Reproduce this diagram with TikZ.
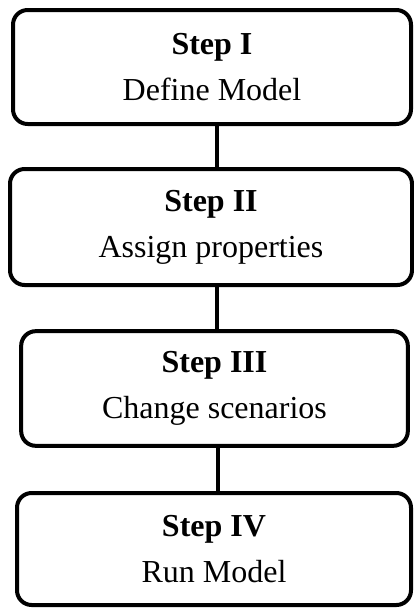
\documentclass[tikz,border=0pt]{standalone}
\usepackage{fontspec}
\setmainfont{Liberation Serif}
\usepackage{tikz}
\usetikzlibrary{positioning,calc}

\begin{document}
\begin{tikzpicture}[x=0.75pt,y=-0.75pt,
        stepbox/.style={draw,rectangle,rounded corners=11pt,line width=3pt,
          outer sep=0pt,inner sep=0pt,align=center,
          font=\fontsize{24}{34.5}\selectfont},
        link/.style={line width=3pt}]
   \useasboundingbox (0,0) rectangle (414,608);
   \node[stepbox,minimum width=298.5pt,minimum height=85.5pt] (A) at (212,67) {\textbf{Step I}\\Define Model};
   \node[stepbox,minimum width=301.5pt,minimum height=87pt] (B) at (211,227) {\textbf{Step II}\\Assign properties};
   \node[stepbox,minimum width=290pt,minimum height=86pt] (C) at (214.5,388.5) {\textbf{Step III}\\Change scenarios};
   \node[stepbox,minimum width=295.5pt,minimum height=84pt] (D) at (214,549) {\textbf{Step IV}\\Run Model};

   \draw[link] ([xshift=3.75pt]A.south) -- ([xshift=3.75pt]A.south |- B.north);
   \draw[link] ([xshift=4.5pt]B.south) -- ([xshift=4.5pt]B.south |- C.north);
   \draw[link] ([xshift=2.25pt]C.south) -- ([xshift=2.25pt]C.south |- D.north);

\end{tikzpicture}
\end{document}
